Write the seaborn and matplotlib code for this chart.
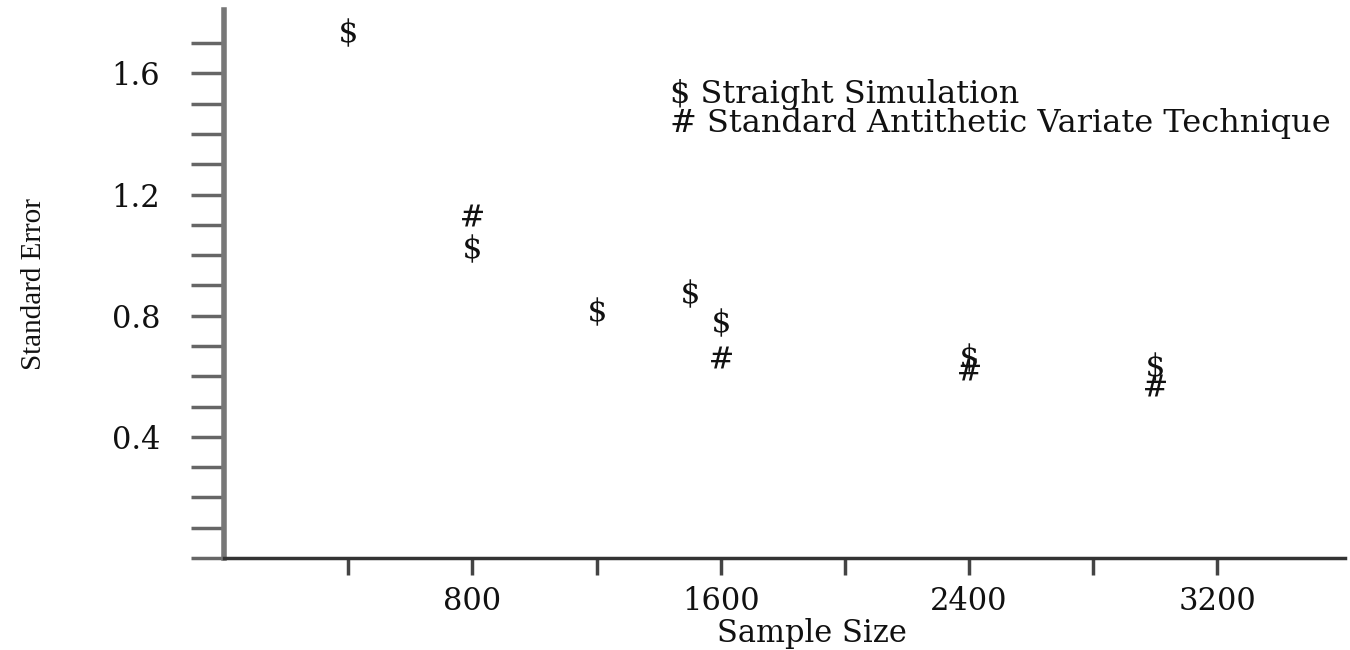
import numpy as np
import matplotlib
matplotlib.use('Agg')
import matplotlib.pyplot as plt
import pandas as pd
import seaborn as sns

# values
straight_n = [400, 800, 1200, 1500, 1600, 2400, 3000]
straight_se = [1.735, 1.025, 0.817, 0.876, 0.78, 0.665, 0.635]
anti_n = [800, 1600, 2400, 3000]
anti_se = [1.134, 0.665, 0.625, 0.572]

x_ticks = [400, 800, 1200, 1600, 2000, 2400, 2800, 3200]
x_labels = ['', '800', '', '1600', '', '2400', '', '3200']
y_ticks = [round(0.1 * i, 1) for i in range(18)]
y_labels = [f'{v:.1f}' if v in (0.4, 0.8, 1.2, 1.6) else '' for v in y_ticks]

sns.set_style('ticks')
plt.rcParams['font.family'] = ['DejaVu Serif']
plt.rcParams['mathtext.fontset'] = 'dejavuserif'
plt.rcParams['text.color'] = '#111111'
plt.rcParams['axes.labelcolor'] = '#111111'

fig = plt.figure(figsize=(13.5, 6.5), dpi=100)
ax = fig.add_axes([0.166, 0.1415, 0.83, 0.8435])

# straight simulation points drawn with a "$" glyph
sns.scatterplot(x=straight_n, y=straight_se, marker=r'$\$$',
                color='#111111', s=420, linewidth=0, ax=ax)
# antithetic points drawn with a "#" glyph
sns.scatterplot(x=anti_n, y=anti_se, marker=r'$\#$',
                color='#111111', s=250, linewidth=0, ax=ax)

ax.set_xlim(0, 3610)
ax.set_ylim(0, 1.81)
ax.set_xticks(x_ticks)
ax.set_xticklabels(x_labels)
ax.set_yticks(y_ticks)
ax.set_yticklabels(y_labels)

for s in ['top', 'right']:
    ax.spines[s].set_visible(False)
ax.spines['left'].set_linewidth(4)
ax.spines['left'].set_color('#777777')
ax.spines['bottom'].set_linewidth(2.5)
ax.spines['bottom'].set_color('#333333')
ax.tick_params(axis='y', length=24, width=2.5, color='#666666', pad=22,
               labelsize=22, labelcolor='#111111')
ax.tick_params(axis='x', length=12, width=2.5, color='#444444', pad=8,
               labelsize=22, labelcolor='#111111')

ax.set_xlabel('Sample Size', fontsize=22)
ax.set_ylabel('Standard Error', fontsize=21, family='Liberation Serif')
ax.xaxis.set_label_coords(0.525, -0.109)
ax.yaxis.set_label_coords(-0.158, 0.5)

ax.text(0.398, 0.845, '$ Straight Simulation', transform=ax.transAxes,
        fontsize=23, va='center', parse_math=False)
ax.text(0.398, 0.792, '# Standard Antithetic Variate Technique', transform=ax.transAxes,
        fontsize=23, va='center', parse_math=False)

fig.savefig('out.png', dpi=100)
